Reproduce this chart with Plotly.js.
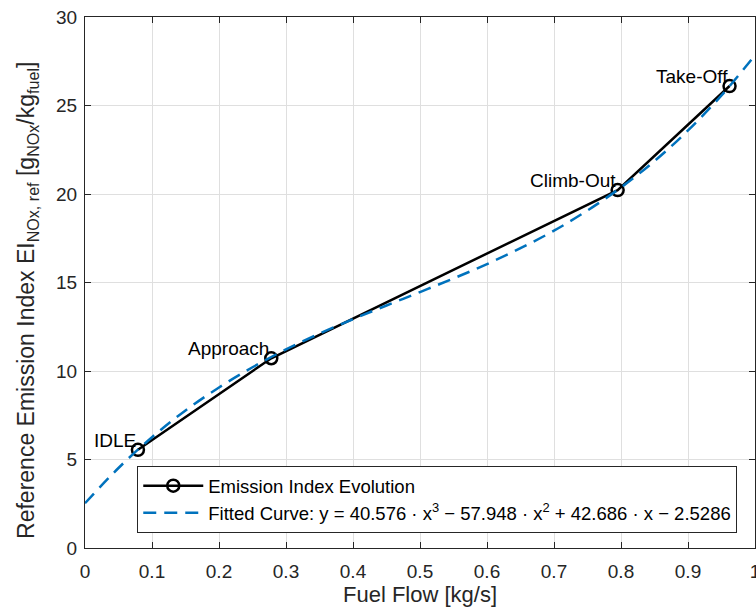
<!DOCTYPE html>
<html>
<head>
<meta charset="utf-8">
<script src="https://cdn.plot.ly/plotly-3.0.1.min.js"></script>
<style>html,body{margin:0;padding:0;background:#fff;}#chart{width:756px;height:612px;}</style>
</head>
<body>
<div id="chart"></div>
<script>
// Measured points
const modeNames = ["IDLE", "Approach", "Climb-Out", "Take-Off"];
const fuelFlow = [0.079, 0.278, 0.795, 0.962];
const emissionIndex = [5.55, 10.72, 20.22, 26.1];

// Fitted curve, values
const fitX = [0, 0.05, 0.1, 0.15, 0.2, 0.25, 0.3, 0.35, 0.4, 0.45, 0.5, 0.55, 0.6, 0.65, 0.7, 0.75, 0.8, 0.85, 0.9, 0.95, 1.0];
const fitY = [2.53, 4.52, 6.26, 7.77, 9.07, 10.21, 11.22, 12.11, 12.93, 13.70, 14.46, 15.23, 16.04, 16.94, 17.93, 19.07, 20.37, 21.86, 23.59, 25.57, 27.84];

const xTicks = [0, 0.1, 0.2, 0.3, 0.4, 0.5, 0.6, 0.7, 0.8, 0.9, 1];
const xTickLabels = ["0", "0.1", "0.2", "0.3", "0.4", "0.5", "0.6", "0.7", "0.8", "0.9", "1"];
const yTicks = [0, 5, 10, 15, 20, 25, 30];

const xTitle = "Fuel Flow [kg/s]";
const yTitle = "Reference Emission Index EI<sub>NOx, ref</sub> [g<sub>NOx</sub>/kg<sub>fuel</sub>]";

const FONT = "Liberation Sans, Arial, sans-serif";
const TXT = "#262626";

const traces = [
  {
    x: fuelFlow, y: emissionIndex, type: "scatter", mode: "lines+markers",
    name: "Emission Index Evolution",
    line: {color: "#000000", width: 2.5},
    marker: {symbol: "circle-open", size: 12, color: "#000000", line: {width: 2.5, color: "#000000"}}
  },
  {
    x: fitX, y: fitY, type: "scatter", mode: "lines",
    name: "Fitted Curve: y = 40.576 · x<sup>3</sup> − 57.948 · x<sup>2</sup> + 42.686 · x − 2.5286",
    line: {color: "#0072BD", width: 2.5, dash: "13px,8px", shape: "spline"}
  }
];

const annotations = modeNames.map((n, i) => ({
  x: fuelFlow[i], y: emissionIndex[i], xref: "x", yref: "y",
  text: n, showarrow: false, xanchor: "right", yanchor: "bottom",
  xshift: 0, yshift: -3,
  font: {family: FONT, size: 19, color: "#000000"}
}));

annotations.push({
  xref: "paper", yref: "paper", x: -0.086, y: 0.466,
  xanchor: "center", yanchor: "middle", textangle: -90,
  text: yTitle, showarrow: false,
  font: {family: FONT, size: 23, color: TXT}
});

const axisCommon = {
  showgrid: true, gridcolor: "#dfdfdf", gridwidth: 1,
  showline: true, linecolor: TXT, linewidth: 1, mirror: "ticks",
  ticks: "inside", ticklen: 6, tickcolor: TXT, zeroline: false,
  ticklabeloverflow: "allow",
  tickfont: {family: FONT, size: 19, color: TXT}
};

const layout = {
  width: 756, height: 612,
  margin: {l: 85, r: 1, t: 17, b: 64},
  paper_bgcolor: "#ffffff", plot_bgcolor: "#ffffff",
  showlegend: true,
  legend: {
    x: 0.078, y: 0.028, xanchor: "left", yanchor: "bottom",
    bgcolor: "#ffffff", bordercolor: "#262626", borderwidth: 1,
    font: {family: FONT, size: 18.5, color: "#000000"},
    itemwidth: 60, tracegroupgap: 0, entrywidth: 600
  },
  xaxis: Object.assign({}, axisCommon, {
    range: [0, 1], tickvals: xTicks, ticktext: xTickLabels,
    ticklabelstandoff: 6,
    title: {text: xTitle, font: {family: FONT, size: 22, color: TXT}, standoff: 4}
  }),
  yaxis: Object.assign({}, axisCommon, {
    range: [0, 30], tickvals: yTicks, ticklabelstandoff: 3
  }),
  annotations: annotations
};

Plotly.newPlot("chart", traces, layout, {displayModeBar: false, staticPlot: true});
</script>
</body>
</html>
